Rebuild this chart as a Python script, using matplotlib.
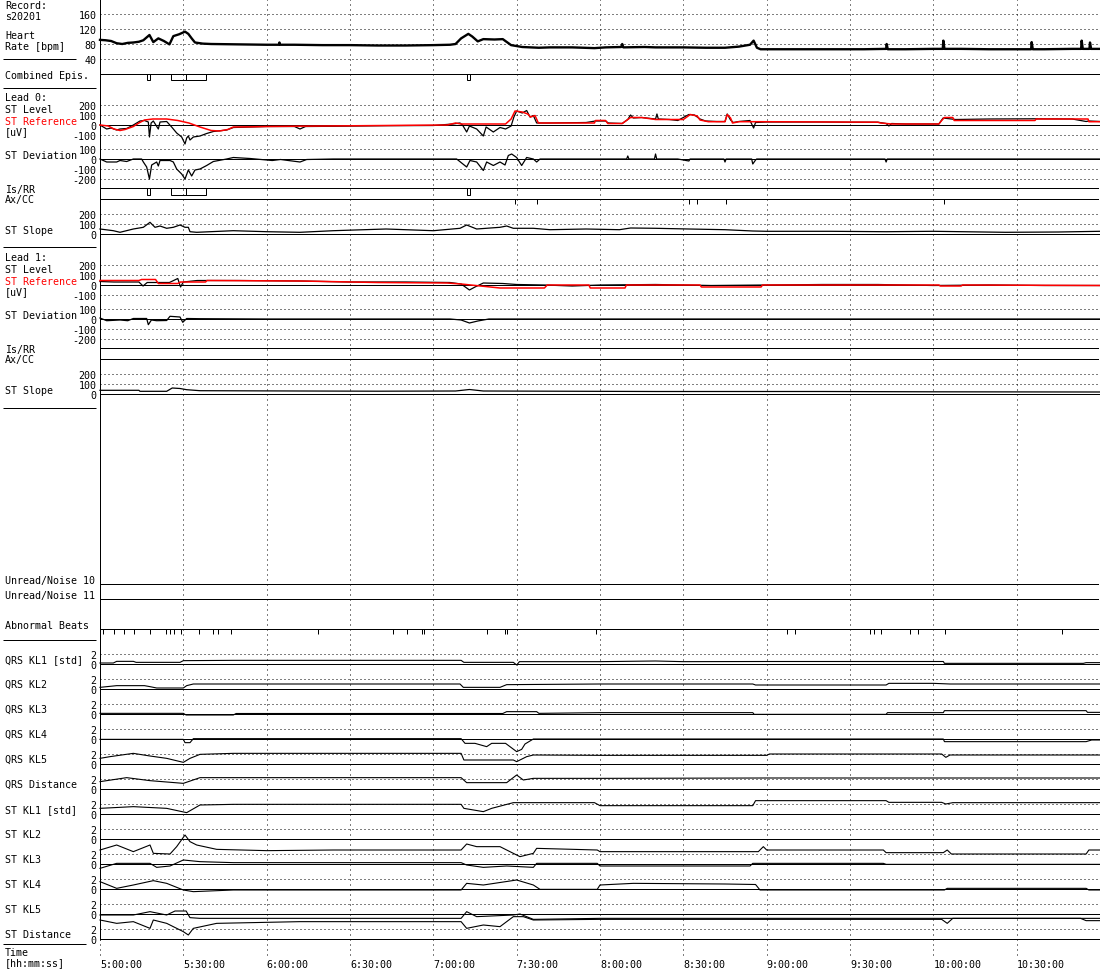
import matplotlib
matplotlib.use("Agg")
import matplotlib.pyplot as plt
from matplotlib.patches import Rectangle

plt.rcParams['font.family'] = ['DejaVu Sans Mono']
FS = 7.2
W, H, DPI = 1100, 970, 100
LW = 72 / DPI                 # one pixel in points
T_END = 360 * 999 / 1000      # plot area is 100..1099 px, 1000 px = 6 hours

# ---------------------------------------------------------------------------
# data, times in minutes after 5:00:00
grid_t = [0, 30, 60, 90, 120, 150, 180, 210, 240, 270, 300, 330]
time_labels = ["5:00:00", "5:30:00", "6:00:00", "6:30:00", "7:00:00", "7:30:00",
               "8:00:00", "8:30:00", "9:00:00", "9:30:00", "10:00:00", "10:30:00"]

heart_rate = [(0, 91), (2, 90), (4, 88), (6, 82), (8, 80), (10, 83), (12, 84), (14, 86),
              (15.6, 90), (17.8, 104), (19.2, 85), (21, 95), (23, 88), (25, 79), (26.4, 101),
              (28.5, 106), (30.6, 113), (31.8, 107), (33, 95), (34.2, 84), (37, 81), (40, 80),
              (50, 79), (60, 78), (64.4, 78), (64.6, 84), (64.8, 78), (70, 78), (80, 77), (90, 77),
              (100, 76), (110, 76), (120, 77), (126, 78), (128, 80), (130, 95), (132.6, 107),
              (134, 100), (136, 87), (138, 93), (142, 92), (145, 93), (146.5, 85), (148, 77),
              (152, 72), (158, 70), (162, 71), (170, 71), (178, 69), (182, 71), (187.6, 72),
              (188, 80), (188.4, 71), (196, 72), (200, 71), (210, 71), (218, 70), (225, 70),
              (230, 73), (234, 78), (235.3, 89), (236.5, 70), (237.8, 66), (245, 66), (255, 66),
              (265, 66), (275, 66), (283, 67), (283.2, 80), (283.6, 66), (290, 66), (300, 67),
              (303.4, 67), (303.6, 89), (304, 67), (310, 67), (320, 66), (335.2, 66), (335.4, 85),
              (335.8, 66), (340, 66), (350, 67), (353.2, 67), (353.4, 89), (353.8, 67),
              (356.2, 67), (356.4, 84), (356.8, 67), (360, 67)]

episodes = [(16.9, 18.0), (25.6, 30.8), (30.8, 38.0), (132.0, 133.2)]
axcc_lead0 = [149.4, 157.2, 212.2, 215.0, 225.5, 304.0]
abnormal_beats = [1.1, 5.0, 8.6, 12.2, 18.0, 23.8, 25.2, 26.6, 29.2, 35.6, 40.7, 42.5, 47.2,
                  78.5, 105.5, 110.5, 115.9, 116.6, 139.3, 145.8, 146.5, 178.6, 247.3, 250.2,
                  277.2, 278.6, 281.2, 291.6, 294.5, 304.2, 346.3]

l0_level = [(0, 0), (1.2, -20), (2.4, -40), (4, -30), (6, -50), (7.2, -40), (9.6, -35), (12, 0),
            (14.4, 40), (16, 45), (17.4, 30), (17.8, -120), (18.4, 20), (19.2, 40), (21, -40),
            (21.6, 30), (24, 35), (25.8, -20), (27.6, -80), (29.4, -120), (30.6, -190),
            (31.2, -130), (31.8, -110), (32.4, -150), (33.6, -120), (36, -110), (38.4, -85),
            (40.8, -65), (45.6, -50), (48, -25), (60, -15), (70, -15), (72, -40), (74, -15),
            (84, -13), (103, -7), (120, -5), (127, 10), (129.6, 20), (130.5, 0), (132, -70),
            (133, -10), (135.6, -40), (138, -110), (139, -20), (141.6, -70), (144, -25),
            (146, -40), (148, -10), (149, 80), (150, 140), (152, 120), (153.6, 145), (154.8, 80),
            (156, 95), (157.2, 20), (162, 20), (175, 25), (178.4, 40), (182, 40), (183, 20),
            (188, 15), (190, 55), (191, 100), (192, 70), (195, 75), (200, 60), (200.5, 110),
            (201, 60), (205, 55), (208, 45), (210, 75), (212, 105), (214, 100), (216, 60),
            (218, 40), (222, 35), (225, 35), (225.8, 110), (227, 50), (228, 25), (230, 35),
            (234, 45), (235.3, -30), (236, 25), (240, 30), (260, 30), (270, 28), (280, 28),
            (283, 15), (284, -10), (285, 15), (290, 10), (302, 10), (303.5, 70), (308, 55),
            (320, 60), (336, 62), (350, 60), (355, 35), (356, 40), (360, 35)]
l0_reference = [(0, 0), (3, -10), (5, -40), (7.2, -55), (9, -45), (12, -15), (14, 20), (16, 50),
                (19, 60), (24, 60), (28, 45), (32, 20), (36, -20), (40, -55), (43, -60), (46, -45),
                (48, -20), (55, -18), (60, -15), (70, -12), (80, -10), (90, -8), (103, -5),
                (110, -3), (125, 0), (128, 20), (130, 10), (140, 10), (146, 10), (148, 60),
                (149.4, 140), (152, 130), (154, 110), (155, 80), (156.6, 95), (157.8, 20),
                (178, 20), (178.4, 45), (182, 45), (182.8, 15), (188, 15), (191, 75), (195, 75),
                (200, 55), (210, 55), (212.5, 105), (215, 90), (216, 50), (219, 33), (225, 33),
                (225.8, 105), (227, 70), (227.7, 20), (230, 33), (238, 33), (280, 28), (281, 20),
                (285, 10), (302, 10), (303, 45), (304, 75), (307, 75), (307.5, 45), (336.6, 45),
                (337, 60), (355.7, 60), (356, 33), (360, 33)]
l0_deviation = [(0, 0), (2.4, -30), (6, -30), (7.2, -15), (9.6, -25), (12, 0), (15, 0),
                (15.6, -30), (16.8, -80), (17.8, -200), (18.6, -60), (20.4, -30), (21, -70),
                (21.6, -15), (25.2, -15), (26.4, -30), (27.6, -100), (29.4, -150), (30.6, -200),
                (31.8, -110), (33, -170), (34.2, -110), (36, -100), (38.4, -65), (40.8, -25),
                (45.6, 0), (48, 15), (54, 5), (62, -15), (65, -5), (72, -30), (74.4, -5), (84, 0),
                (128.4, 0), (132, -80), (133.2, -15), (135.6, -30), (138, -115), (139.2, -30),
                (141.6, -65), (144, -30), (145.8, -60), (147, 35), (148.2, 50), (150, 15),
                (151.8, -65), (153.6, 15), (156, 0), (157.2, -30), (158.4, 0), (189.6, 0),
                (190, 30), (190.4, 0), (199.6, 0), (200, 50), (200.4, 0), (208, 0), (210, -10),
                (212, -20), (212.4, 0), (224.6, 0), (225, -30), (225.4, 0), (234.6, 0), (235, -50),
                (236, -10), (236.4, 0), (282.6, 0), (283, -30), (283.4, 0), (360, 0)]
l0_slope = [(0, 50), (4.8, 33), (7.2, 17), (12, 50), (15.6, 67), (18, 117), (19.8, 67),
            (21.6, 80), (24, 57), (26.4, 67), (28.8, 90), (30.6, 67), (31.8, 67), (32.4, 23),
            (34.8, 17), (48, 33), (60, 23), (72, 17), (84, 33), (103, 50), (120, 33), (129.6, 57),
            (132, 90), (135.6, 50), (144, 67), (146.4, 80), (148.8, 57), (156, 57), (162, 43),
            (175, 50), (187, 43), (191, 60), (200, 57), (212, 50), (225, 43), (235, 30), (240, 27),
            (263, 27), (283, 23), (300, 27), (326, 17), (345, 20), (360, 27)]

l1_level = [(0, 35), (5, 30), (10, 30), (14, 30), (15.5, -10), (17, 25), (25, 25), (28, 65),
            (29, -20), (30, 30), (35, 45), (50, 45), (72, 40), (90, 30), (110, 30), (126, 25),
            (130, 10), (133, -50), (135, -20), (138, 20), (145, 15), (150, 5), (160, 0),
            (170, -10), (180, 0), (200, 5), (210, 0), (220, -5), (240, 0), (260, 5), (280, 5),
            (300, -5), (320, 0), (340, -5), (360, -5)]
l1_reference = [(0, 45), (14, 45), (15, 55), (20, 55), (21, 15), (28, 15), (29, 30), (38, 30),
                (38.5, 45), (72, 40), (100, 25), (125, 20), (130, 10), (144, -30), (160, -30),
                (161, 0), (176, 0), (176.5, -30), (189, -30), (189.5, 0), (216, 0), (216.5, -20),
                (238, -20), (238.5, 0), (302, 0), (302.5, -10), (310, -10), (310.5, 0), (360, -5)]
l1_deviation = [(0, 10), (2.4, -17), (7.2, -10), (10, -17), (12, 5), (16.8, 5), (17.4, -57),
                (18.5, -10), (20.4, -17), (24, -15), (25.2, 27), (28.8, 20), (29.8, -33),
                (31.2, 5), (36, 3), (60, 0), (126, 0), (130, -10), (133, -40), (136, -20),
                (140, 0), (360, 0)]
l1_slope = [(0, 37), (14, 37), (14.4, 27), (24, 27), (26, 60), (28.8, 55), (31.2, 43), (36, 33),
            (72, 30), (100, 28), (128, 30), (133, 45), (138, 30), (200, 25), (260, 25), (300, 22),
            (360, 20)]

qrs_kl1 = [(0, 0.2), (4.8, 0.2), (6, 0.53), (12, 0.53), (13, 0.33), (28.8, 0.33), (30, 0.67),
           (48, 0.73), (130, 0.73), (131, 0.33), (148.8, 0.33), (150, -0.2), (151, 0.47),
           (180, 0.47), (200, 0.6), (210, 0.47), (240, 0.5), (303.6, 0.5), (304, 0.13),
           (354, 0.13), (355, 0.27), (360, 0.27)]
qrs_kl2 = [(0, 0.33), (6, 0.67), (16, 0.67), (18, 0.47), (20.4, 0.2), (30, 0.2), (31.2, 0.67),
           (33.6, 1.0), (129.6, 1.0), (130.8, 0.33), (144, 0.33), (146.4, 0.87), (180, 1.0),
           (235, 1.0), (236, 0.8), (283, 0.8), (284, 1.13), (300, 1.13), (306, 1.0), (360, 1.0)]
qrs_kl3 = [(0, 0.13), (30, 0.13), (31, -0.2), (48, -0.2), (49, 0.1), (145, 0.1), (146.4, 0.47),
           (157.2, 0.47), (158, 0.13), (180, 0.27), (235, 0.27), (235.5, -0.07), (283, -0.07),
           (283.5, 0.27), (303.6, 0.27), (304, 0.67), (355, 0.67), (355.5, 0.33), (360, 0.33)]
qrs_kl4 = [(0, -0.07), (30, -0.07), (30.6, -0.73), (32.4, -0.73), (33.6, 0.07), (130, 0.07),
           (131.4, -0.87), (135, -0.87), (139.2, -1.53), (141, -0.87), (146, -0.87), (148, -1.7),
           (150, -2.53), (151.8, -2.07), (153, -1.0), (156, 0.0), (303.6, 0.0), (304, -0.53),
           (355, -0.53), (357, -0.2), (360, -0.2)]
qrs_kl5 = [(0, 1.13), (3.6, 1.47), (12, 2.13), (18, 1.6), (24, 1.13), (30, 0.33), (32.4, 1.13),
           (36, 1.93), (48, 2.13), (130, 2.13), (131, 0.8), (148.8, 0.8), (150, 0.47),
           (153.6, 1.47), (156, 1.8), (180, 1.73), (240, 1.73), (241, 2.0), (303, 2.0),
           (304.5, 1.33), (306, 1.8), (360, 1.8)]
qrs_distance = [(0, 1.47), (9.6, 2.27), (18, 1.67), (30, 1.13), (36, 2.27), (130, 2.27),
                (132, 1.27), (146.4, 1.27), (150, 2.8), (152.4, 1.8), (156, 2.13), (180, 2.13),
                (240, 2.2), (360, 2.2)]
st_kl1 = [(0, 1.13), (12, 1.47), (24, 1.13), (31.2, 0.27), (36, 1.8), (48, 1.93), (130, 1.93),
          (131, 1.13), (138, 0.47), (141, 1.13), (148.8, 2.27), (178, 2.27), (180, 1.67),
          (235, 1.67), (236, 2.67), (283, 2.67), (284, 2.33), (303, 2.33), (304.5, 2.0),
          (307, 2.27), (360, 2.27)]
st_kl2 = [(0, -2.2), (6, -1.2), (12, -2.53), (18, -1.2), (19.2, -2.87), (25.2, -3.0),
          (27.6, -1.53), (30.6, 0.8), (32.4, -0.53), (34.8, -1.2), (42, -2.07), (60, -2.33),
          (84, -2.2), (130, -2.2), (132, -1.0), (135.6, -1.53), (144, -1.53), (148.8, -2.87),
          (151.2, -3.53), (156, -2.87), (157.2, -1.87), (179, -2.2), (180, -2.53), (237, -2.53),
          (238.8, -1.53), (240, -2.2), (282, -2.2), (283, -2.73), (303.6, -2.73), (305, -2.2),
          (306.5, -3.0), (355, -3.0), (356, -2.2), (360, -2.2)]
st_kl3 = [(0, -0.87), (6, 0.13), (18, 0.13), (20.4, -0.67), (25.2, -0.4), (30, 0.8), (36, 0.47),
          (48, 0.27), (130, 0.27), (132, -0.2), (138, -0.67), (146.4, -0.4), (156, -0.67),
          (157.2, 0.13), (179, 0.13), (180, -0.4), (234, -0.4), (235, 0.13), (282, 0.13),
          (283, -0.07), (360, -0.07)]
st_kl4 = [(0, 1.47), (6, 0.13), (12, 0.8), (19.2, 1.67), (24, 1.13), (30, -0.2), (33.6, -0.53),
          (48, -0.2), (130, -0.2), (132, 1.13), (138, 0.8), (150, 1.8), (156, 0.8),
          (158.4, -0.07), (179, -0.07), (180, 0.8), (192, 1.13), (225, 1.0), (236, 0.9),
          (237.6, -0.2), (304, -0.2), (305, 0.13), (355, 0.13), (356, -0.2), (360, -0.2)]
st_kl5 = [(0, -0.2), (12, -0.2), (18, 0.47), (24, -0.2), (27, 0.6), (31, 0.6), (32.4, -0.73),
          (36, -0.87), (130, -0.87), (132, 0.47), (135.6, -0.53), (148.8, -0.2), (151.2, 0.0),
          (156, -1.07), (180, -0.87), (360, -0.87)]
st_distance = [(0, 3.8), (6, 3.13), (12, 3.47), (18, 2.13), (19.2, 3.8), (24, 3.13), (30, 1.47),
               (31.8, 0.8), (33.6, 2.13), (42, 3.13), (72, 3.47), (130, 3.47), (132, 2.13),
               (138, 2.8), (144, 2.47), (148.8, 4.47), (152.4, 4.47), (156, 3.8), (180, 3.93),
               (303, 3.93), (305, 3.13), (307, 4.13), (353, 4.13), (355, 3.67), (360, 3.67)]

kl_names = ["QRS KL1 [std]", "QRS KL2", "QRS KL3", "QRS KL4", "QRS KL5", "QRS Distance",
            "ST KL1 [std]", "ST KL2", "ST KL3", "ST KL4", "ST KL5", "ST Distance"]
kl_series = [qrs_kl1, qrs_kl2, qrs_kl3, qrs_kl4, qrs_kl5, qrs_distance,
             st_kl1, st_kl2, st_kl3, st_kl4, st_kl5, st_distance]

leads = [
    {"level": l0_level, "ref": l0_reference, "dev": l0_deviation, "slope": l0_slope,
     "isrr": episodes, "axcc": axcc_lead0},
    {"level": l1_level, "ref": l1_reference, "dev": l1_deviation, "slope": l1_slope,
     "isrr": [], "axcc": []},
]

# ---------------------------------------------------------------------------
fig = plt.figure(figsize=(W / DPI, H / DPI), dpi=DPI)
DOT_H = (0, (1, 3))
DOT_V = (0, (1, 4))


def area(left, top, right, bottom):
    return fig.add_axes([left / W, 1 - bottom / H, (right - left) / W, (bottom - top) / H])


def bare(ax):
    ax.patch.set_visible(False)
    for s in ax.spines.values():
        s.set_visible(False)
    ax.set_xticks([])
    ax.set_yticks([])


def panel(top, bottom, zero, ppu, ticks):
    ax = area(100, top, 1099, bottom)
    bare(ax)
    ax.set_xlim(0, T_END)
    ax.set_ylim((zero - bottom) / ppu, (zero - top) / ppu)
    ax.set_yticks(ticks, [str(v) for v in ticks])
    ax.tick_params(axis='y', length=0, pad=2.5, labelsize=FS)
    for v in ticks:
        if v != 0:
            ax.axhline(v, color='k', lw=LW, ls=DOT_H)
    ax.axhline(0, color='k', lw=LW, clip_on=False)
    return ax


def trace(ax, pts, color='k', lw=0.9):
    ax.plot([p[0] for p in pts], [p[1] for p in pts], color=color, lw=lw, clip_on=False)


# background: frame, vertical grid, time axis, band lines (y in pixel rows)
bg = area(100, 0, 1099, 957)
bare(bg)
bg.set_xlim(0, T_END)
bg.set_ylim(957, 0)
bg.set_xticks(grid_t, time_labels)
bg.tick_params(axis='x', length=0, pad=2, labelsize=FS)
for lab in bg.get_xticklabels():
    lab.set_horizontalalignment('left')
bg.vlines(grid_t[1:], 0, 960, colors='k', lw=LW, linestyles=[DOT_V], clip_on=False)
bg.vlines([0], 940, 960, colors='k', lw=LW, linestyles=[DOT_V], clip_on=False)
bg.vlines([0, T_END], 0, 941, colors='k', lw=LW)
bg.hlines([585, 600, 630], 0, T_END, colors='k', lw=LW)
bg.vlines(abnormal_beats, 630, 634.5, colors='k', lw=LW)
for t0, t1 in episodes:
    bg.add_patch(Rectangle((t0, 75), t1 - t0, 6, fill=False, ec='k', lw=LW))

# heart rate
ax = panel(0, 75, 75, 75 / 200, [160, 120, 80, 40])
trace(ax, heart_rate, lw=1.7)

# leads
for i, lead in enumerate(leads):
    off = 160 * i
    level_ax = panel(98 + off, 141 + off, 126 + off, 0.1, [200, 100, 0, -100])
    trace(level_ax, lead["level"])
    trace(level_ax, lead["ref"], color='#ff0000', lw=1.1)
    dev_ax = panel(141 + off, 188 + off, 160 + off, 0.1, [100, 0, -100, -200])
    trace(dev_ax, lead["dev"])
    bg.hlines([189 + off, 200 + off], 0, T_END, colors='k', lw=LW)
    for t0, t1 in lead["isrr"]:
        bg.add_patch(Rectangle((t0, 189 + off), t1 - t0, 7, fill=False, ec='k', lw=LW))
    bg.vlines(lead["axcc"], 200 + off, 204.5 + off, colors='k', lw=LW)
    slope_ax = panel(205 + off, 247 + off, 235 + off, 0.1, [200, 100, 0])
    trace(slope_ax, lead["slope"])

# KL panels
for i, pts in enumerate(kl_series):
    zero = 665 + 25 * i
    ax = panel(zero - 22, zero + 3, zero, 5, [2, 0])
    trace(ax, pts, lw=0.8)

# left-hand labels (y in pixel rows)
lab = area(0, 0, 100, H)
bare(lab)
lab.set_xlim(0, 100)
lab.set_ylim(H, 0)
labels = [("Record:", 6), ("s20201", 17), ("Heart", 36), ("Rate [bpm]", 47),
          ("Combined Epis.", 76)]
for i in range(2):
    off = 160 * i
    labels += [(f"Lead {i}:", 98 + off), ("ST Level", 110 + off), ("ST Reference", 122 + off),
               ("[uV]", 132 + off), ("ST Deviation", 156 + off), ("Is/RR", 190 + off),
               ("Ax/CC", 200 + off), ("ST Slope", 231 + off)]
labels += [("Unread/Noise 10", 581), ("Unread/Noise 11", 596), ("Abnormal Beats", 626)]
labels += [(name, 660 + 25 * i) for i, name in enumerate(kl_names)]
labels += [("Time", 953), ("[hh:mm:ss]", 963)]
for text, y in labels:
    color = '#ff0000' if text == "ST Reference" else 'k'
    lab.text(5, y, text, fontsize=FS, color=color, va='center', ha='left')
lab.hlines([60], 3, 76, colors='k', lw=LW)
lab.hlines([89, 248, 409, 641], 3, 96, colors='k', lw=LW)
lab.hlines([945], 3, 86, colors='k', lw=LW)

fig.savefig("out.png", dpi=DPI, facecolor='white')
